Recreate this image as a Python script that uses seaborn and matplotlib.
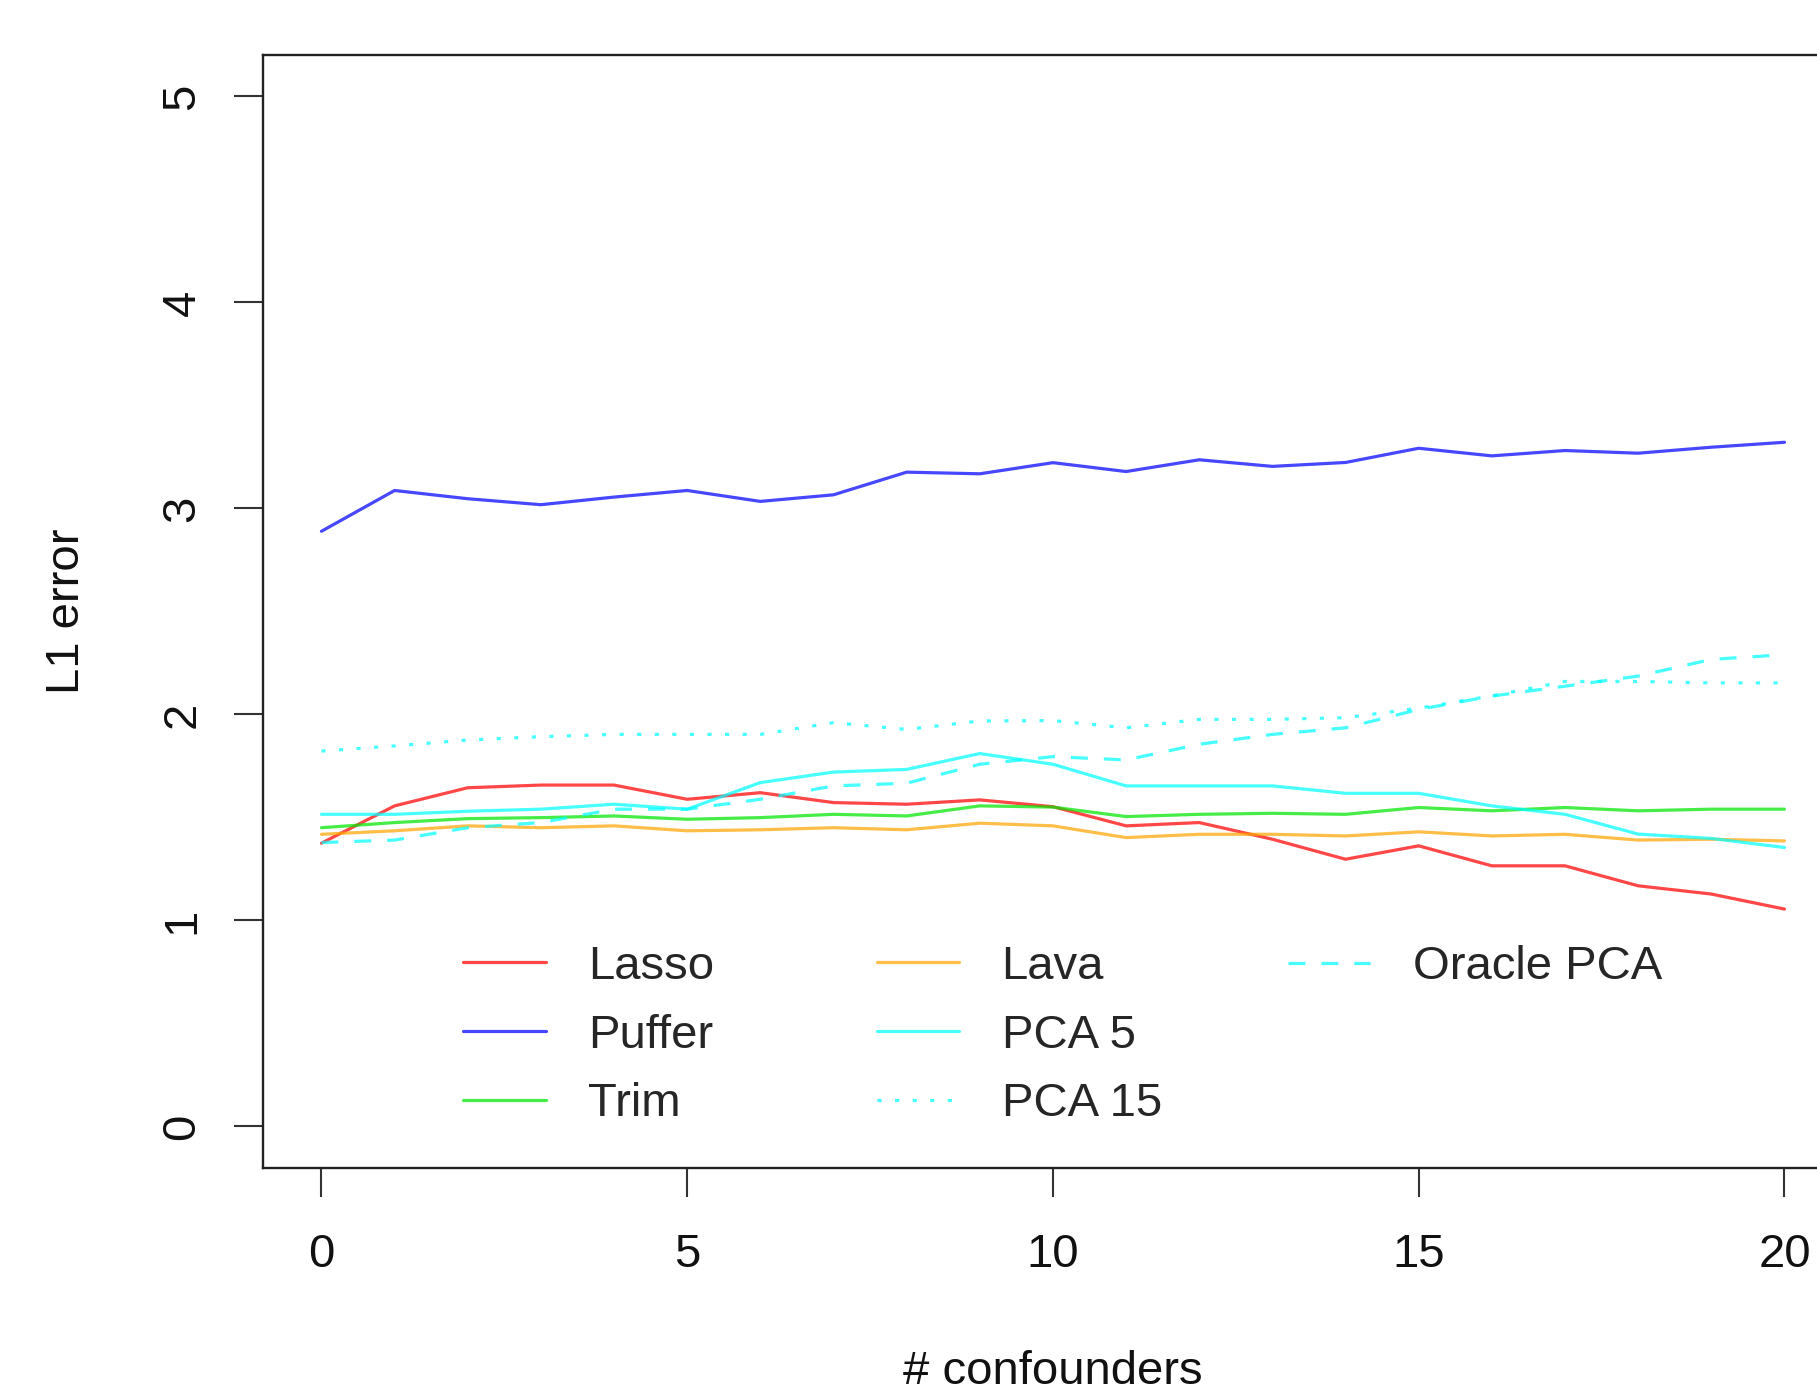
import numpy as np
import pandas as pd
import matplotlib
matplotlib.use("Agg")
import matplotlib.pyplot as plt
import seaborn as sns

confounders = list(range(21))
lasso = [1.375, 1.556, 1.644, 1.657, 1.657, 1.588, 1.620, 1.572, 1.564, 1.585, 1.552,
         1.459, 1.475, 1.394, 1.297, 1.362, 1.265, 1.265, 1.168, 1.128, 1.055]
puffer = [2.889, 3.087, 3.047, 3.018, 3.055, 3.087, 3.034, 3.066, 3.176, 3.168, 3.222,
          3.179, 3.236, 3.204, 3.223, 3.292, 3.255, 3.281, 3.268, 3.297, 3.321]
trim = [1.450, 1.475, 1.494, 1.499, 1.507, 1.491, 1.499, 1.515, 1.507, 1.556, 1.550,
        1.504, 1.515, 1.520, 1.515, 1.548, 1.532, 1.548, 1.532, 1.540, 1.540]
lava = [1.418, 1.435, 1.459, 1.450, 1.459, 1.435, 1.440, 1.450, 1.440, 1.472, 1.459,
        1.402, 1.418, 1.418, 1.410, 1.430, 1.410, 1.418, 1.390, 1.394, 1.386]
pca5 = [1.515, 1.515, 1.530, 1.540, 1.564, 1.540, 1.669, 1.720, 1.733, 1.810, 1.758,
        1.653, 1.653, 1.653, 1.617, 1.617, 1.556, 1.515, 1.419, 1.398, 1.354]
pca15 = [1.822, 1.847, 1.876, 1.892, 1.903, 1.903, 1.903, 1.960, 1.927, 1.968, 1.970,
         1.935, 1.976, 1.976, 1.984, 2.030, 2.090, 2.160, 2.160, 2.153, 2.153]
oracle_pca = [1.378, 1.390, 1.450, 1.475, 1.540, 1.540, 1.588, 1.653, 1.666, 1.758, 1.795,
              1.779, 1.855, 1.903, 1.935, 2.024, 2.089, 2.137, 2.186, 2.267, 2.290]

methods = ["Lasso", "Puffer", "Trim", "Lava", "PCA 5", "PCA 15", "Oracle PCA"]
series = [lasso, puffer, trim, lava, pca5, pca15, oracle_pca]
x_ticks = [0, 5, 10, 15, 20]
y_ticks = [0, 1, 2, 3, 4, 5]

df = pd.concat([pd.DataFrame({"confounders": confounders, "error": s, "method": m})
                for m, s in zip(methods, series)], ignore_index=True)

sns.set_style("white")
plt.rcParams["font.family"] = ["Liberation Sans", "DejaVu Sans"]

palette = {"Lasso": "#FF0000", "Puffer": "#0000FF", "Trim": "#00E600",
           "Lava": "#FFA500", "PCA 5": "#00FFFF", "PCA 15": "#00FFFF",
           "Oracle PCA": "#00FFFF"}
dashes = {"Lasso": "", "Puffer": "", "Trim": "", "Lava": "", "PCA 5": "",
          "PCA 15": (1.3, 4.2), "Oracle PCA": (5.3, 5)}

fig = plt.figure(figsize=(18.17, 13.94), dpi=100)
ax = fig.add_axes([0.1447, 0.1624, 0.8696, 0.798])

sns.lineplot(data=df, x="confounders", y="error", hue="method", style="method",
             hue_order=methods, style_order=methods, palette=palette, dashes=dashes,
             linewidth=2.3, alpha=0.72, legend=False, ax=ax)

ax.set_xlim(-0.8, 20.8)
ax.set_ylim(-0.2, 5.2)
ax.set_xticks(x_ticks)
ax.set_yticks(y_ticks)
ax.set_xticklabels([str(v) for v in x_ticks])
ax.set_yticklabels([str(v) for v in y_ticks])

fs = 34
ax.tick_params(axis="both", direction="out", length=21, width=1.5, color="#333333",
               labelsize=fs, labelcolor="#111111")
ax.tick_params(axis="x", pad=26, bottom=True)
ax.tick_params(axis="y", pad=21, left=True)
for lab in ax.get_yticklabels():
    lab.set_rotation(90)
    lab.set_va("center")
    lab.set_ha("right")

for sp in ax.spines.values():
    sp.set_visible(True)
    sp.set_color("#222222")
    sp.set_linewidth(1.7)

ax.set_xlabel("# confounders", fontsize=fs, color="#111111")
ax.set_ylabel("L1 error", fontsize=fs, color="#111111")
ax.xaxis.set_label_coords(0.5, -0.1837)
ax.xaxis.label.set_va("center")
ax.yaxis.set_label_coords(-0.124, 0.5)
ax.yaxis.label.set_va("center")

lines = ax.get_lines()
handles = lines[:7]
leg_kw = dict(frameon=False, fontsize=fs, handlelength=1.74, handletextpad=0.9,
              borderpad=0, borderaxespad=0, labelspacing=0.52)
leg1 = ax.legend(handles[0:3], methods[0:3], loc="center left",
                 bbox_to_anchor=(0.1269, 0.1187), **leg_kw)
ax.add_artist(leg1)
leg2 = ax.legend(handles[3:6], methods[3:6], loc="center left",
                 bbox_to_anchor=(0.3886, 0.1187), **leg_kw)
ax.add_artist(leg2)
leg3 = ax.legend(handles[6:7], methods[6:7], loc="center left",
                 bbox_to_anchor=(0.6487, 0.1803), **leg_kw)

fig.savefig("out.png", dpi=100)
